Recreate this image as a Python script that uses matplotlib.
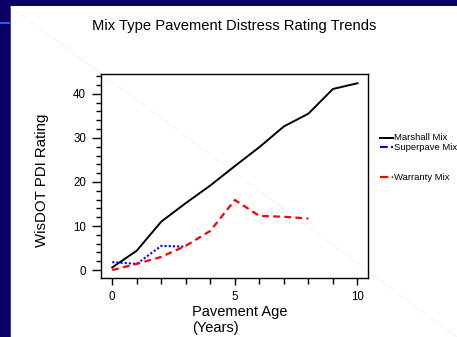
import matplotlib
matplotlib.use("Agg")
import matplotlib.pyplot as plt
from matplotlib.lines import Line2D
from matplotlib.patches import Rectangle
from matplotlib.ticker import MultipleLocator

plt.rcParams['font.family'] = ['Liberation Sans', 'DejaVu Sans']

title = "Mix Type Pavement Distress Rating Trends"
xlabel = "Pavement Age\n(Years)"
ylabel = "WisDOT PDI Rating"

marshall_x = [0, 1, 2, 3, 4, 5, 6, 7, 8, 9, 10]
marshall_y = [0.6, 4.4, 11.0, 15.2, 19.2, 23.6, 27.9, 32.6, 35.5, 41.1, 42.4]
superpave_x = [0, 1, 2, 3]
superpave_y = [1.8, 1.4, 5.5, 5.3]
warranty_x = [0, 1, 2, 3, 4, 5, 6, 7, 8]
warranty_y = [0.0, 1.4, 3.0, 5.5, 8.9, 15.9, 12.3, 12.1, 11.7]
series_names = ["Marshall Mix", "Superpave Mix", "Warranty Mix"]

W, H = 457, 337
fig = plt.figure(figsize=(W / 100, H / 100), dpi=100)
fig.patch.set_facecolor('white')

def fx(px):
    return px / W

def fy(py):
    return 1 - py / H

navy = '#0a0066'
# slide decoration
fig.add_artist(Rectangle((0, fy(6)), 1, 6 / H, transform=fig.transFigure,
                         facecolor=navy, edgecolor='none', zorder=0))
fig.add_artist(Rectangle((0, 0), fx(10), 1, transform=fig.transFigure,
                         facecolor=navy, edgecolor='none', zorder=0))
fig.add_artist(Rectangle((fx(10), 0), fx(1), fy(6), transform=fig.transFigure,
                         facecolor='#3a3aa0', edgecolor='none', zorder=0))
fig.add_artist(Rectangle((0, fy(24)), fx(10), 2 / H, transform=fig.transFigure,
                         facecolor='#2060f0', edgecolor='none', zorder=0))
fig.add_artist(Line2D([fx(11), fx(457)], [fy(7), fy(337)], transform=fig.transFigure,
                      color='#f1f1f1', lw=0.6, zorder=0))

ax = fig.add_axes([fx(100.7), fy(278), fx(368) - fx(100.7), fy(74) - fy(278)])
ax.set_facecolor('none')

l1, = ax.plot(marshall_x, marshall_y, color='black', lw=1.4, solid_joinstyle='round')
l2, = ax.plot(superpave_x, superpave_y, color='#0000ff', lw=1.5, linestyle=(0, (1, 1)))
l3, = ax.plot(warranty_x, warranty_y, color='#ff0000', lw=1.6, linestyle=(0, (3, 2)))

ax.set_xlim(-0.47, 10.43)
ax.set_ylim(-1.8, 44.5)
ax.xaxis.set_major_locator(MultipleLocator(5))
ax.xaxis.set_minor_locator(MultipleLocator(1))
ax.yaxis.set_major_locator(MultipleLocator(10))
ax.yaxis.set_minor_locator(MultipleLocator(2))
ax.tick_params(axis='both', which='both', direction='out', width=1, labelsize=8.3)
ax.tick_params(axis='y', which='major', length=6.5, pad=4)
ax.tick_params(axis='y', which='minor', length=3.6)
ax.tick_params(axis='x', which='major', length=5, pad=4.2)
ax.tick_params(axis='x', which='minor', length=4)
for s in ax.spines.values():
    s.set_linewidth(1)

ax.set_title(title, fontsize=10.6, x=(234.5 - 100.7) / 267.3, y=(278 - 34) / 204,
             va='center', ha='center')
ax.set_xlabel(xlabel, fontsize=10.5, ha='left', va='top', multialignment='left',
              linespacing=1.15)
ax.xaxis.set_label_coords((192 - 100.7) / 267.3, (278 - 305) / 204)
ax.set_ylabel(ylabel, fontsize=10.8, va='center')
ax.yaxis.set_label_coords((42.5 - 100.7) / 267.3, (278 - 180) / 204)

# legend entries placed to the right of the axes
legend_y = [138, 147, 177]
for line, name, py in zip([l1, l2, l3], series_names, legend_y):
    fig.add_artist(Line2D([fx(380), fx(393)], [fy(py), fy(py)], transform=fig.transFigure,
                          color=line.get_color(), lw=line.get_linewidth(),
                          linestyle=line.get_linestyle()))
    fig.text(fx(394.5), fy(py), name, fontsize=6.8, ha='left', va='center')

fig.savefig('out.png', dpi=100, facecolor=fig.get_facecolor())
